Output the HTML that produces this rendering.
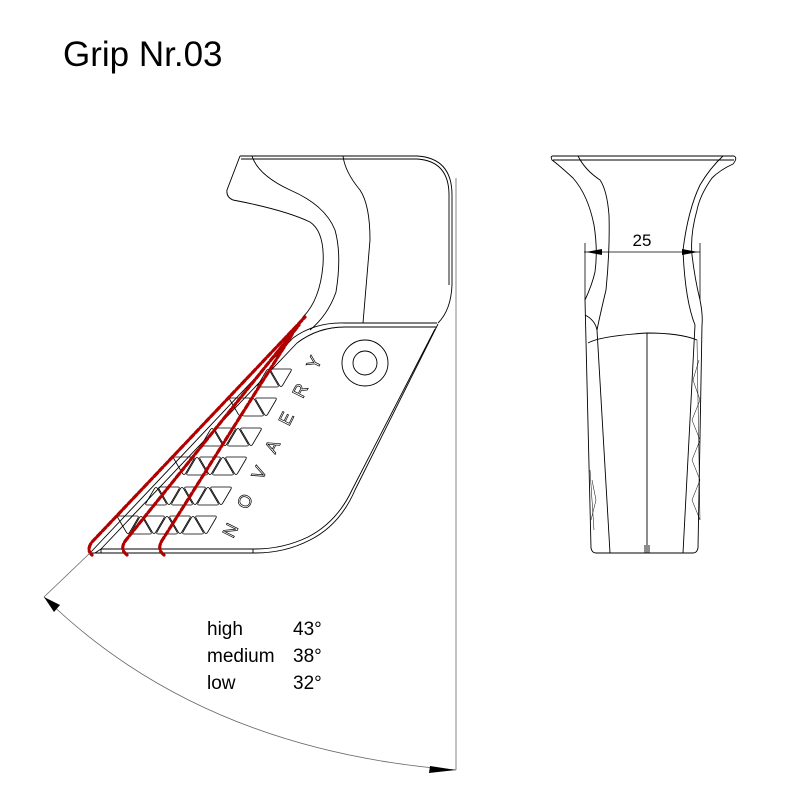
<!DOCTYPE html>
<html><head><meta charset="utf-8"><style>
html,body{margin:0;padding:0;background:#fff;}
svg{display:block;}
</style></head><body>
<svg width="800" height="800" viewBox="0 0 800 800" xmlns="http://www.w3.org/2000/svg">
<defs>
<path id="dn" d="M2,1 L20,1 Q22,1 21,3 L12.5,17.5 Q11,19.5 9.5,17.5 L1,3 Q0,1 2,1 Z" fill="none" stroke="#000" stroke-width="0.8"/>
<path id="up" d="M2,19 L20,19 Q22,19 21,17 L12.5,2.5 Q11,0.5 9.5,2.5 L1,17 Q0,19 2,19 Z" fill="none" stroke="#000" stroke-width="0.8"/>
</defs>
<text x="63" y="66" font-family="Liberation Sans, sans-serif" font-size="35" fill="#000">Grip Nr.03</text>

<g fill="none" stroke="#000" stroke-width="0.9">
<path d="M240,156 L417,156 Q452,158 452,195 L452,285 Q451,310 438,323"/>
<path d="M241,159 L417,159 Q449,161 449,195 L449,285"/>
<path d="M240,156 L227,190 Q226,197 233,200 Q285,210 310,222 Q325,232 323,265 Q320,300 303,317 Q296,328 290,340"/>
<path d="M252,156 Q258,175 290,190 Q325,205 335,230 Q342,255 336,292 Q328,315 310,330"/>
<path d="M343,156 Q345,172 360,190 Q370,205 370,240 L363,323"/>
<path d="M293,338 Q315,322 345,323 L437,323"/>
<path d="M297,343 Q318,327 345,327 L436,327"/>
<path d="M438,324 L355,490 Q340,525 310,540 Q285,553 255,553 L90,553 L293,338"/>
<path d="M435,329 L352,490 Q337,522 308,537 Q283,549 255,549 L101,549 L297,343"/>
<path d="M101,549 L95,553"/>
<line x1="101" y1="549" x2="101" y2="553"/>
<line x1="253" y1="549" x2="253" y2="553"/>
<circle cx="365" cy="363" r="23"/>
<circle cx="365" cy="363" r="12"/>
</g>

<g>
<use href="#dn" x="270" y="368"/><use href="#up" x="257" y="368"/>
<use href="#dn" x="255" y="397"/><use href="#up" x="242" y="397"/><use href="#dn" x="229" y="397"/>
<use href="#dn" x="240" y="427"/><use href="#up" x="227" y="427"/><use href="#dn" x="214" y="427"/><use href="#up" x="201" y="427"/>
<use href="#dn" x="225" y="456"/><use href="#up" x="212" y="456"/><use href="#dn" x="199" y="456"/><use href="#up" x="186" y="456"/><use href="#dn" x="173" y="456"/>
<use href="#dn" x="210" y="486"/><use href="#up" x="197" y="486"/><use href="#dn" x="184" y="486"/><use href="#up" x="171" y="486"/><use href="#dn" x="158" y="486"/><use href="#up" x="145" y="486"/>
<use href="#dn" x="195" y="515"/><use href="#up" x="182" y="515"/><use href="#dn" x="169" y="515"/><use href="#up" x="156" y="515"/><use href="#dn" x="143" y="515"/><use href="#up" x="130" y="515"/><use href="#dn" x="117" y="515"/>
</g>
<text x="233" y="539" transform="rotate(-63.5 233 539)" font-family="Liberation Sans, sans-serif" font-size="18" fill="none" stroke="#000" stroke-width="0.7" textLength="200" lengthAdjust="spacing">NOVAERY</text>

<g fill="none" stroke="#b00000" stroke-width="3.2" stroke-dasharray="5 2.5" stroke-linecap="round">
<path d="M92,555 Q86,550 92,542 L305,317"/>
<path d="M127,555 Q119,549 126,540 L299,325"/>
<path d="M164,555 Q156,549 163,539 L293,333"/>
</g>

<g fill="none" stroke="#666" stroke-width="0.8">
<line x1="90" y1="553" x2="44" y2="597"/>
<line x1="456" y1="178" x2="456" y2="770"/>
<path d="M44,597 Q200,750 456,770"/>
</g>
<path d="M44,597 L60,605 L54,612 Z" fill="#000"/>
<path d="M456,770 L430,766 L429,773 Z" fill="#000"/>
<g font-family="Liberation Sans, sans-serif" font-size="19" fill="#000">
<text x="207" y="635">high</text><text x="293" y="635">43°</text>
<text x="207" y="662">medium</text><text x="293" y="662">38°</text>
<text x="207" y="689">low</text><text x="293" y="689">32°</text>
</g>

<g fill="none" stroke="#000" stroke-width="0.9">
<path d="M553,156 L734,156 Q738,158 733,164 Q720,170 712,178 Q700,195 697,210 Q690,235 692,255 Q695,280 700,300 Q703,315 702,325 L698,548 Q697,553 693,553 L596,553 Q592,553 591,548 L585,300 Q592,285 595,272 Q598,250 594,225 Q588,195 573,178 Q560,166 552,160 Q550,156 553,156 Z"/>
<path d="M553,160 L734,160"/>
<path d="M578,156 Q585,170 600,180 Q607,190 609,215 Q610,250 606,290 Q600,315 597,330 L610,553"/>
<path d="M723,156 Q710,168 700,185 Q688,210 683,250 Q685,300 695,325 L690,420 L683,553"/>
<path d="M588,343 Q600,336 647,333 Q680,333 697,340"/>
<line x1="647" y1="333" x2="647" y2="553"/>
<line x1="645" y1="545" x2="645" y2="553"/><line x1="649" y1="545" x2="649" y2="553"/>
<path d="M585,315 Q595,320 597,330"/>
</g>
<g stroke="#000" stroke-width="0.5" fill="none">
<path d="M697,340 L700,520 M699,360 L693,380 L700,400 L692,420 L700,440 L692,460 L700,480 L692,500 L700,520"/>
<path d="M590,470 L594,530 M592,480 L596,500 L591,520"/>
</g>
<g stroke="#000" stroke-width="0.8" fill="none">
<line x1="585" y1="243" x2="585" y2="300"/>
<line x1="700" y1="243" x2="700" y2="300"/>
<line x1="584" y1="252" x2="700" y2="252"/>
</g>
<path d="M586,252 L602,249 L602,255 Z" fill="#000"/>
<path d="M698,252 L682,249 L682,255 Z" fill="#000"/>
<text x="642" y="246" text-anchor="middle" font-family="Liberation Sans, sans-serif" font-size="17" fill="#000">25</text>
</svg>
</body></html>
